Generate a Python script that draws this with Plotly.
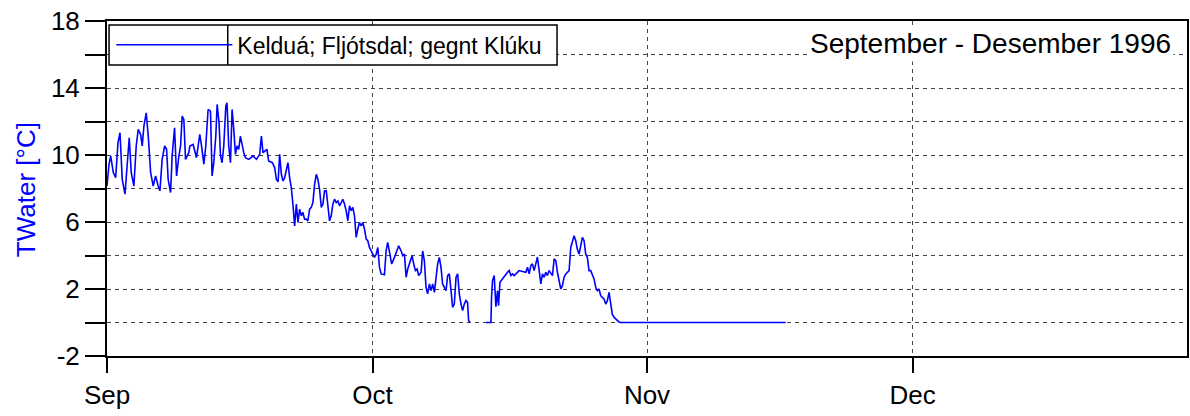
import pandas as pd
import plotly.graph_objects as go

# ---- data ----
day_offset = [
    0.00, 0.23, 0.42, 0.71, 0.98, 1.24, 1.47, 1.72, 2.03, 2.29, 2.51, 2.74, 3.04, 3.30, 3.53, 3.80,
    3.98, 4.17, 4.43, 4.66, 4.93, 5.22, 5.49, 5.78, 5.98, 6.23, 6.51, 6.73, 6.91, 7.18, 7.36, 7.63,
    7.86, 8.12, 8.31, 8.49, 8.68, 8.87, 9.24,
    9.36, 9.73, 10.11, 10.48, 10.68, 10.94, 11.16, 11.42, 11.69, 11.87, 12.06, 12.29, 12.44, 12.66,
    12.82, 13.00, 13.19, 13.42, 13.56, 13.75, 13.95, 14.13, 14.32, 14.51, 14.69, 14.88, 15.07, 15.25,
    15.45, 15.64, 16.01, 16.49, 16.88, 17.25, 17.44, 17.62, 18.07, 18.26, 18.68, 18.94, 19.13, 19.33,
    19.50, 19.70, 19.88, 20.07, 20.26, 20.44, 20.63, 20.82, 21.00, 21.20, 21.39, 21.57, 21.76, 21.95,
    22.13, 22.32, 22.51, 22.69, 22.89, 23.08, 23.26, 23.45, 23.64, 23.82, 24.01, 24.21, 24.39, 24.58,
    24.77, 24.95, 25.14, 25.33, 25.51, 25.70, 25.90, 26.08, 26.27, 26.46, 26.64, 26.83, 27.02, 27.20,
    27.40, 27.59, 27.77, 27.96, 28.15, 28.33, 28.52, 28.72, 28.90, 29.09, 29.28, 29.46, 29.65, 29.84,
    30.02, 30.21, 30.41, 30.59,
    30.78, 30.97, 31.34, 31.53, 31.71, 31.91, 32.16, 32.47, 32.73, 32.95, 33.22, 33.41, 33.60, 33.79,
    33.97, 34.16, 34.46, 34.65, 34.84, 35.03, 35.21, 35.48, 35.66, 35.85, 36.04, 36.22, 36.42, 36.61,
    36.79, 36.98, 37.17, 37.35, 37.54, 37.73, 37.91, 38.11, 38.30, 38.48, 38.67, 38.86, 39.04, 39.23,
    39.43, 39.61, 39.80, 39.99, 40.17, 40.36, 40.55, 40.73, 40.85, 41.00,
    41.90,
    42.81, 43.37, 43.44, 43.55, 43.74, 43.93, 44.12, 44.23, 44.39, 44.68, 44.87, 45.06, 45.24, 45.43,
    45.63, 45.81, 46.00, 46.19, 46.37, 46.56, 46.93, 47.32, 47.50, 47.69, 47.88, 48.06, 48.25, 48.44,
    48.62, 48.82, 49.01, 49.19, 49.38, 49.57, 49.75, 49.94, 50.14, 50.32, 50.51, 50.70, 50.88, 51.07,
    51.26, 51.44, 51.63, 51.83, 52.01, 52.20, 52.39, 52.57, 52.76, 52.95, 53.13, 53.33, 53.52, 53.70,
    53.89, 54.08, 54.26, 54.45, 54.64, 54.83, 55.02, 55.21, 55.39, 55.58, 55.77, 55.95, 56.14, 56.34,
    56.52, 56.71, 56.90, 57.08, 57.27, 57.46, 57.64, 57.84, 58.03, 66.86, 76.66,
]

twater = [
    8.15, 9.45, 9.94, 8.95, 8.65, 10.73, 11.33, 8.55, 7.66, 9.54, 11.03, 8.95, 8.15, 10.54, 11.53, 11.23,
    10.54, 11.73, 12.52, 11.13, 8.95, 8.15, 8.75, 8.15, 7.86, 9.74, 10.54, 10.34, 8.55, 7.76, 9.94, 11.63,
    8.75, 9.94, 10.54, 12.32, 12.12, 9.74, 10.14,
    10.54, 10.63, 9.84, 11.23, 10.54, 9.45, 10.54, 12.72, 12.62, 8.75, 9.54, 11.13, 13.02, 11.92,
    9.94, 9.54, 10.54, 12.92, 13.11, 10.54, 9.54, 12.72, 11.53, 10.04, 10.54, 10.34, 11.13, 10.54,
    10.14, 9.84, 9.74, 9.94, 9.74, 10.04, 11.13, 10.14, 10.34, 9.64, 9.54, 9.25, 8.55, 8.40,
    10.04, 8.85, 8.45, 8.65, 9.05, 9.54, 8.65, 8.05, 7.07, 5.77, 7.07, 5.97, 6.77, 6.37,
    6.57, 6.17, 6.17, 6.07, 6.77, 6.87, 7.16, 8.25, 8.85, 8.55, 7.96, 6.87, 7.07, 7.86,
    7.86, 6.87, 6.07, 6.37, 7.07, 7.36, 7.16, 7.26, 6.97, 7.16, 7.36, 7.07, 6.67, 6.07,
    6.97, 6.67, 6.87, 6.37, 5.08, 5.57, 5.97, 5.77, 5.97, 5.57, 4.98, 4.88, 4.48, 4.28,
    4.08, 3.89, 4.08, 4.48,
    3.29, 2.90, 2.85, 4.28, 4.78, 4.28, 3.49, 3.89, 4.28, 4.58, 4.28, 3.99, 4.08, 2.70,
    3.19, 3.49, 3.99, 3.49, 3.10, 3.19, 2.80, 3.00, 4.28, 3.69, 2.10, 1.71, 2.30, 1.90,
    2.30, 1.80, 2.70, 3.49, 3.89, 3.29, 2.30, 2.10, 1.90, 2.80, 2.90, 1.90, 0.91, 1.10,
    2.70, 2.90, 1.70, 1.10, 0.71, 1.10, 1.31, 1.20, 0.12, 0.00,
    None,
    0.00, 0.00, 1.51, 2.50, 2.80, 0.95, 1.90, 1.01, 2.40, 2.60, 2.80, 2.90, 3.00, 3.10,
    2.80, 2.90, 2.80, 2.90, 3.00, 3.10, 3.05, 3.00, 3.30, 2.90, 3.40, 3.50, 3.10, 3.50,
    3.90, 3.10, 2.30, 2.90, 2.70, 3.00, 2.80, 3.10, 2.90, 2.80, 3.80, 3.70, 3.00, 2.50,
    2.00, 2.20, 2.70, 2.90, 3.00, 3.10, 4.48, 4.88, 5.18, 4.88, 4.38, 4.08, 4.68, 5.08,
    4.88, 4.08, 3.89, 3.10, 3.10, 2.90, 2.60, 2.10, 1.90, 2.00, 1.60, 1.50, 1.40, 1.10,
    1.30, 1.80, 1.20, 0.50, 0.32, 0.20, 0.13, 0.03, 0.00, 0.00, 0.00,
]

series_name = "Kelduá; Fljótsdal; gegnt Klúku"
period_label = "September - Desember 1996"
y_title = "TWater [°C]"

month_ticks = ["1996-09-01", "1996-10-01", "1996-11-01", "1996-12-01"]
month_labels = ["Sep", "Oct", "Nov", "Dec"]
y_ticks = [-2, 0, 2, 4, 6, 8, 10, 12, 14, 16, 18]
y_labels = ["-2", "", "2", "", "6", "", "10", "", "14", "", "18"]

start = pd.Timestamp("1996-09-01")
times = [start + pd.Timedelta(days=d) for d in day_offset]

FONT = "Liberation Sans, Arial, sans-serif"

fig = go.Figure()
fig.add_trace(go.Scatter(
    x=times, y=twater, mode="lines", name=series_name,
    line=dict(color="#0000FF", width=1.6), connectgaps=False,
))

fig.update_layout(
    width=1190, height=416,
    margin=dict(l=107, r=3, t=21, b=60, autoexpand=False),
    paper_bgcolor="white", plot_bgcolor="white",
    font=dict(family=FONT, color="black"),
    showlegend=True,
    legend=dict(
        x=0.004, y=0.929, xanchor="left", yanchor="middle",
        bgcolor="rgba(0,0,0,0)", borderwidth=0,
        font=dict(family=FONT, size=23, color="black"),
        itemwidth=116,
    ),
    annotations=[
        dict(
            text=period_label, xref="paper", yref="paper",
            x=0.988, y=0.932, xanchor="right", yanchor="middle",
            showarrow=False, bgcolor="white", borderpad=2,
            font=dict(family=FONT, size=28, color="black"),
        ),
        dict(
            text=y_title, xref="paper", yref="paper",
            x=-0.075, y=0.495, xanchor="center", yanchor="middle",
            textangle=-90, showarrow=False,
            font=dict(family=FONT, size=26, color="#0000FF"),
        ),
    ],
    shapes=[
        dict(type="rect", xref="paper", yref="paper",
             x0=0.0019, x1=0.4167, y0=0.869, y1=0.988,
             fillcolor="white", line=dict(color="black", width=1.5), layer="above"),
        dict(type="line", xref="paper", yref="paper",
             x0=0.1118, x1=0.1118, y0=0.869, y1=0.988,
             line=dict(color="black", width=1.5), layer="above"),
    ],
)

fig.update_xaxes(
    type="date", range=["1996-09-01", "1997-01-01"], automargin=False,
    tickmode="array", tickvals=month_ticks, ticktext=month_labels,
    ticks="outside", ticklen=15, tickwidth=1.5, tickcolor="black",
    tickfont=dict(family=FONT, size=26, color="black"),
    showline=True, linecolor="black", linewidth=2, mirror=True,
    showgrid=True, gridcolor="#444444", gridwidth=1, griddash="4px,4px",
    zeroline=False,
)
fig.update_yaxes(
    range=[-2, 18], automargin=False,
    tickmode="array", tickvals=y_ticks, ticktext=y_labels,
    ticks="outside", ticklen=20, tickwidth=1.5, tickcolor="black",
    tickfont=dict(family=FONT, size=26, color="black"),
    showline=True, linecolor="black", linewidth=2, mirror=True,
    showgrid=True, gridcolor="#444444", gridwidth=1, griddash="4px,4px",
    zeroline=False,
)

fig.write_html(
    "out.html",
    config={"displayModeBar": False},
    post_script="document.body.style.margin='0px';",
)
